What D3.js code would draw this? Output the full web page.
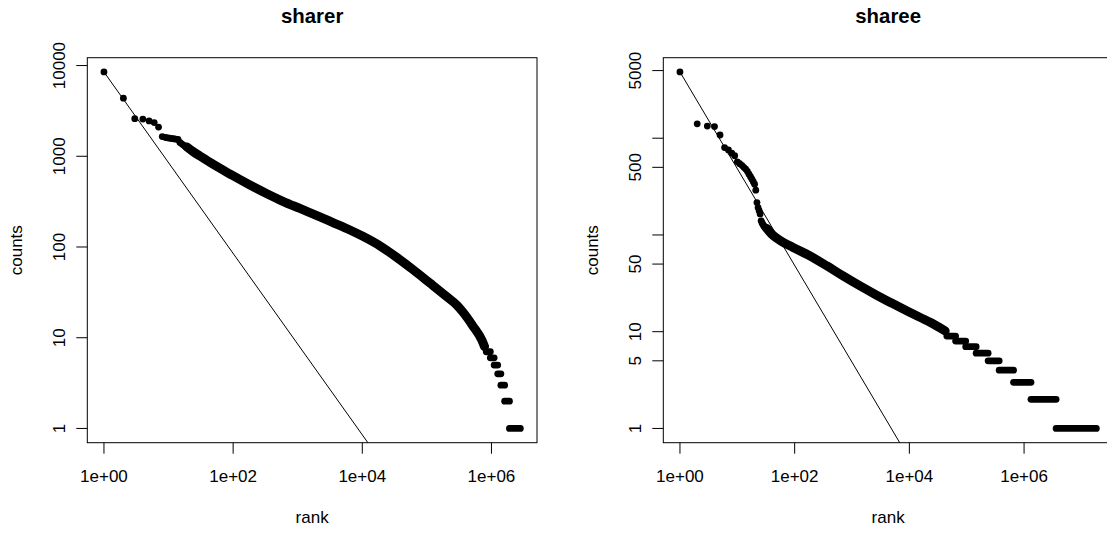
<!DOCTYPE html>
<html>
<head>
<meta charset="utf-8">
<script src="https://cdn.jsdelivr.net/npm/d3@7"></script>
<style>
body { margin: 0; background: #fff; }
svg { display: block; font-family: "Liberation Sans", Arial, sans-serif; }
</style>
</head>
<body>
<svg id="chart" width="1107" height="533"></svg>
<script>
// ---- sharer: individual top ranks, dense band, and flat runs of equal counts ----
const sharerRank = [1, 2, 3, 4, 5, 6, 7, 8, 9, 10, 11, 12, 13, 14, 15, 16, 17, 18, 19, 20];
const sharerCount = [8500, 4375, 2600, 2570, 2450, 2350, 2100, 1650, 1610, 1590,
                     1570, 1560, 1545, 1530, 1420, 1370, 1330, 1290, 1260, 1230];
const sharerBandRank = [19.3, 23.9, 30.6, 45.3, 67.1, 99.3, 182, 334, 590, 1081, 1983, 3508, 6427,
                        10210, 18720, 34340, 60700, 111200, 204000, 291000, 360600, 515000, 710000, 780000];
const sharerBandCount = [1267, 1130, 1007, 848, 719, 612, 483, 387, 319, 266, 222, 186, 154,
                         131, 103, 76.6, 56.5, 40.1, 28.3, 22.9, 19.2, 13.5, 9.4, 8];
const sharerStepCount = [7, 6, 5, 4, 3, 2, 1];
const sharerStepFrom = [8.3e5, 9.6e5, 1.1e6, 1.25e6, 1.4e6, 1.6e6, 1.9e6];
const sharerStepTo = [9.6e5, 1.1e6, 1.25e6, 1.4e6, 1.6e6, 1.9e6, 2.8e6];
const sharerYTicks = [1, 10, 100, 1000, 10000];
const sharerYLabels = ["1", "10", "100", "1000", "10000"];

// ---- sharee ----
const shareeRank = [1, 2, 3, 4, 5, 6, 7, 8, 9, 10, 11, 12, 13, 14, 15, 16,
                    17, 18, 19, 20, 21, 22, 23, 24, 25, 26, 27, 28, 29, 30, 31, 32];
const shareeCount = [4840, 1410, 1335, 1320, 1080, 800, 755, 700, 660, 570, 545, 525, 500, 480, 455, 425,
                     400, 377, 355, 335, 290, 216, 192, 178, 165, 140, 133, 128, 124, 120, 118, 117];
const shareeBandRank = [32.6, 40.4, 55.7, 93.8, 186, 367, 699, 1382, 2737, 5200, 10300, 23000, 42000];
const shareeBandCount = [117, 101, 87.7, 74.3, 60.6, 47.8, 37.7, 29.7, 23.7, 19.4, 15.8, 12.5, 10.2];
const shareeStepCount = [9, 8, 7, 6, 5, 4, 3, 2, 1];
const shareeStepFrom = [4.5e4, 6.4e4, 9.6e4, 1.46e5, 2.36e5, 3.68e5, 6.55e5, 1.32e6, 3.62e6];
const shareeStepTo = [6.4e4, 9.6e4, 1.46e5, 2.36e5, 3.68e5, 6.55e5, 1.32e6, 3.62e6, 1.82e7];
const shareeYTicks = [1, 5, 10, 50, 100, 500, 1000, 5000];
const shareeYLabels = ["1", "5", "10", "50", "", "500", "", "5000"];

// reference line: counts = first count * rank^slope
const fitSlope = -1;
const xTicks = [1, 1e2, 1e4, 1e6];
const xLabels = ["1e+00", "1e+02", "1e+04", "1e+06"];

const svg = d3.select('#chart');
const plotTop = 57.7, plotH = 385, plotW = 449.7;
const dotR = 3.4;

// R style: log range padded by 4% on each side
function logPad(lo, hi) {
    const a = Math.log10(lo), b = Math.log10(hi), p = 0.04 * (b - a);
    return [Math.pow(10, a - p), Math.pow(10, b + p)];
}

function drawPanel(p, idx) {
    const left = p.left;
    const xMax = d3.max(p.stepTo);
    const yMax = d3.max(p.count);
    const x = d3.scaleLog().domain(logPad(1, xMax)).range([left, left + plotW]);
    const y = d3.scaleLog().domain(logPad(1, yMax)).range([plotTop + plotH, plotTop]);

    svg.append('clipPath').attr('id', 'clip' + idx)
        .append('rect')
        .attr('x', left).attr('y', plotTop)
        .attr('width', plotW).attr('height', plotH);

    const g = svg.append('g').attr('clip-path', `url(#clip${idx})`);

    // fitted line
    const fitEnd = xMax * 10;
    const fitPts = [[1, p.count[0]], [fitEnd, p.count[0] * Math.pow(fitEnd, fitSlope)]];
    g.append('path')
        .attr('d', d3.line().x(d => x(d[0])).y(d => y(d[1]))(fitPts))
        .attr('fill', 'none').attr('stroke', '#000').attr('stroke-width', 1);

    // dense band of overlapping points
    const band = p.bandRank.map((r, i) => [r, p.bandCount[i]]);
    g.append('path')
        .attr('d', d3.line().x(d => x(d[0])).y(d => y(d[1])).curve(d3.curveMonotoneX)(band))
        .attr('fill', 'none').attr('stroke', '#000')
        .attr('stroke-width', 9).attr('stroke-linecap', 'round').attr('stroke-linejoin', 'round');

    // runs of equal counts
    g.selectAll('.step')
        .data(p.stepCount.map((c, i) => ({ c: c, a: p.stepFrom[i], b: p.stepTo[i] })))
        .enter().append('line')
        .attr('x1', d => x(d.a)).attr('x2', d => x(d.b))
        .attr('y1', d => y(d.c)).attr('y2', d => y(d.c))
        .attr('stroke', '#000').attr('stroke-width', dotR * 2).attr('stroke-linecap', 'round');

    // individual points
    g.selectAll('.pt')
        .data(p.rank.map((r, i) => [r, p.count[i]]))
        .enter().append('circle')
        .attr('cx', d => x(d[0])).attr('cy', d => y(d[1])).attr('r', dotR)
        .attr('fill', '#000');

    // box
    svg.append('rect')
        .attr('x', left).attr('y', plotTop)
        .attr('width', plotW).attr('height', plotH)
        .attr('fill', 'none').attr('stroke', '#000').attr('stroke-width', 1);

    // x axis
    const bottom = plotTop + plotH;
    xTicks.forEach((t, i) => {
        svg.append('line')
            .attr('x1', x(t)).attr('x2', x(t))
            .attr('y1', bottom).attr('y2', bottom + 11)
            .attr('stroke', '#000');
        svg.append('text')
            .attr('x', x(t)).attr('y', 481.5)
            .attr('text-anchor', 'middle').attr('font-size', 17)
            .text(xLabels[i]);
    });

    // y axis
    p.yTicks.forEach((t, i) => {
        svg.append('line')
            .attr('x1', left - 11).attr('x2', left)
            .attr('y1', y(t)).attr('y2', y(t))
            .attr('stroke', '#000');
        if (p.yLabels[i]) {
            svg.append('text')
                .attr('transform', `translate(${left - 22.5},${y(t)}) rotate(-90)`)
                .attr('text-anchor', 'middle').attr('font-size', 17)
                .text(p.yLabels[i]);
        }
    });

    const cx = left + plotW / 2;
    svg.append('text')
        .attr('x', cx).attr('y', 23)
        .attr('text-anchor', 'middle').attr('font-size', 20.4).attr('font-weight', 'bold')
        .text(p.title);
    svg.append('text')
        .attr('x', cx).attr('y', 523)
        .attr('text-anchor', 'middle').attr('font-size', 17)
        .text('rank');
    svg.append('text')
        .attr('transform', `translate(${left - 65.5},${plotTop + plotH / 2}) rotate(-90)`)
        .attr('text-anchor', 'middle').attr('font-size', 17)
        .text('counts');
}

drawPanel({
    title: 'sharer', left: 87.3,
    rank: sharerRank, count: sharerCount,
    bandRank: sharerBandRank, bandCount: sharerBandCount,
    stepCount: sharerStepCount, stepFrom: sharerStepFrom, stepTo: sharerStepTo,
    yTicks: sharerYTicks, yLabels: sharerYLabels
}, 0);

drawPanel({
    title: 'sharee', left: 663.3,
    rank: shareeRank, count: shareeCount,
    bandRank: shareeBandRank, bandCount: shareeBandCount,
    stepCount: shareeStepCount, stepFrom: shareeStepFrom, stepTo: shareeStepTo,
    yTicks: shareeYTicks, yLabels: shareeYLabels
}, 1);
</script>
</body>
</html>
